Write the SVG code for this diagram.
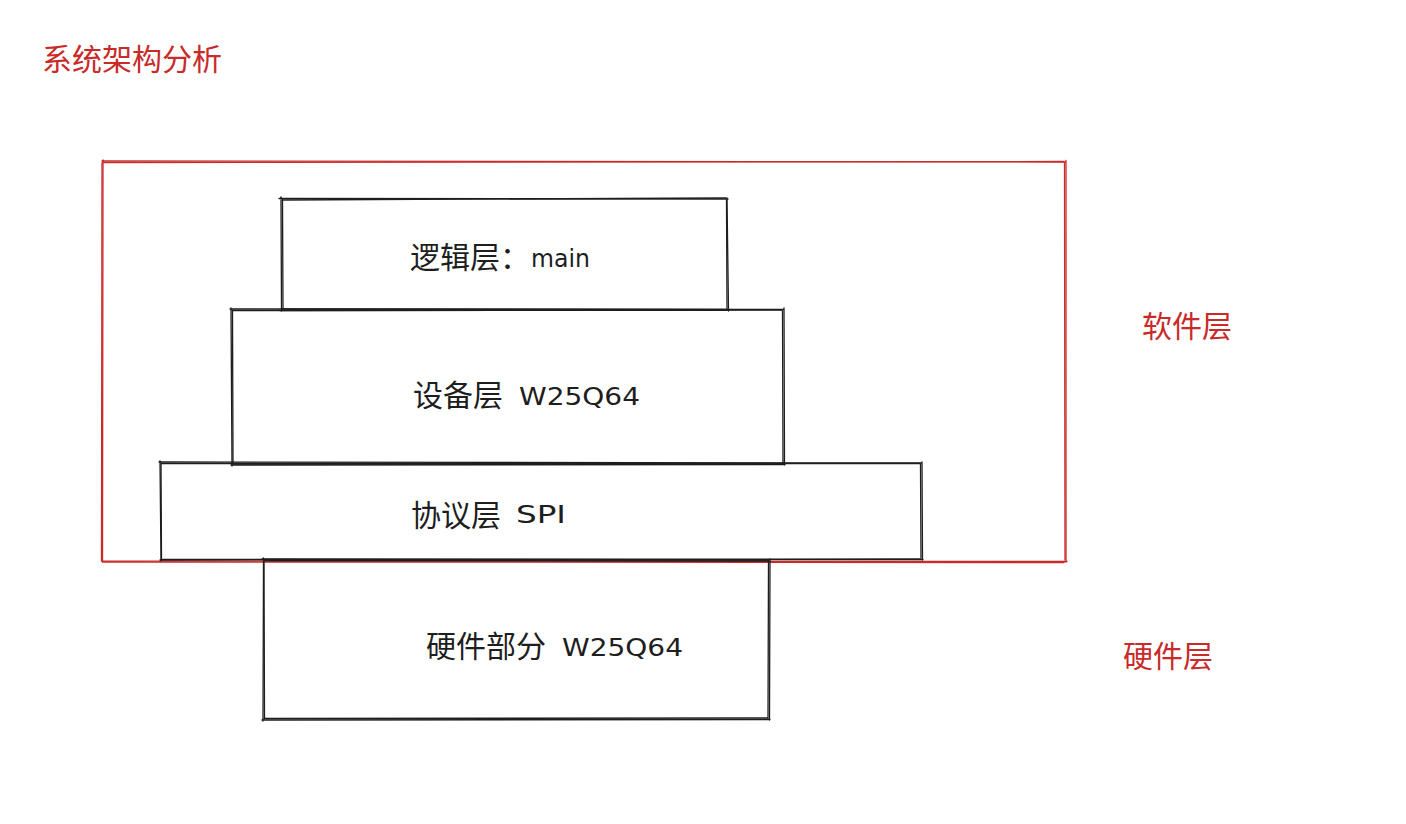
<svg xmlns="http://www.w3.org/2000/svg" width="1406" height="824" viewBox="0 0 1406 824">
<style>
.bk{fill:none;stroke:#1e1e1e;stroke-width:1.3;stroke-linecap:round;stroke-linejoin:round}
.rd{fill:none;stroke:#c92a2a;stroke-width:1.3;stroke-linecap:round;stroke-linejoin:round}
.cn{font-family:"Noto Sans CJK SC","Noto Sans",sans-serif;font-size:30px;fill:#1e1e1e}
.lt{font-family:"DejaVu Sans","Liberation Sans",sans-serif;font-size:24px;fill:#1e1e1e}
.rt{font-family:"Noto Sans CJK SC","Noto Sans",sans-serif;font-size:30px;fill:#c92a2a}
</style>
<rect width="1406" height="824" fill="#ffffff"/>
<g id="title">
<text class="rt" x="42" y="70">系统架构分析</text>
</g>
<g id="software-frame">
<path class="rd" d="M102 161 L1065 162 M1066 160.5 L1066 562 M1067 561.5 L102 561 M102.5 562 L103 160"/>
<path class="rd" d="M103 162.5 L1064 161.5 M1064.5 163 L1065 560 M1064 562.5 L103 562 M101.5 561 L102 163"/>
<text class="rt" x="1142" y="337">软件层</text>
</g>
<g id="logic-layer">
<path class="bk" d="M279 198.5 L728 199 M727 198 L728.5 311 M729 310 L280 310.5 M281.5 311 L281 197"/>
<path class="bk" d="M282 200 L726 198 M726.5 200 L727 309 M726 309.5 L282 309 M283 310 L282.5 199"/>
<text class="cn" x="410" y="268">逻辑层：</text>
<text class="lt" x="531" y="267" textLength="59" lengthAdjust="spacingAndGlyphs">main</text>
</g>
<g id="device-layer">
<path class="bk" d="M230 309 L783 309.5 M784 308 L784.5 465 M785 464.5 L231 465 M232 466 L231 308"/>
<path class="bk" d="M232 310.5 L782 310 M782.5 311 L783 463 M783 463.5 L232 464 M233 463 L232.5 310"/>
<text class="cn" x="413" y="406">设备层</text>
<text class="lt" x="519" y="405" textLength="121" lengthAdjust="spacingAndGlyphs">W25Q64</text>
</g>
<g id="protocol-layer">
<path class="bk" d="M159 462 L921 463 M922 462 L922.5 560 M923 559.5 L160 560 M161 561 L160 461"/>
<path class="bk" d="M161 463.5 L920 463.5 M920.5 464 L921 558.5 M920 559 L161 559.5 M161.5 558 L161 463"/>
<text class="cn" x="411" y="526">协议层</text>
<text class="lt" x="516" y="523" textLength="50" lengthAdjust="spacingAndGlyphs">SPI</text>
</g>
<g id="hardware">
<path class="bk" d="M262 559 L769 560 M770 559 L769.5 720 M770 719.5 L262 720 M263 721 L263.5 558"/>
<path class="bk" d="M264 560.5 L768 561 M768.5 561 L768 718.5 M768 718 L264 718.5 M264.5 719 L264 560"/>
<text class="cn" x="426" y="657">硬件部分</text>
<text class="lt" x="562" y="656" textLength="121" lengthAdjust="spacingAndGlyphs">W25Q64</text>
<text class="rt" x="1123" y="667">硬件层</text>
</g>
<g id="connectors"></g>
</svg>
